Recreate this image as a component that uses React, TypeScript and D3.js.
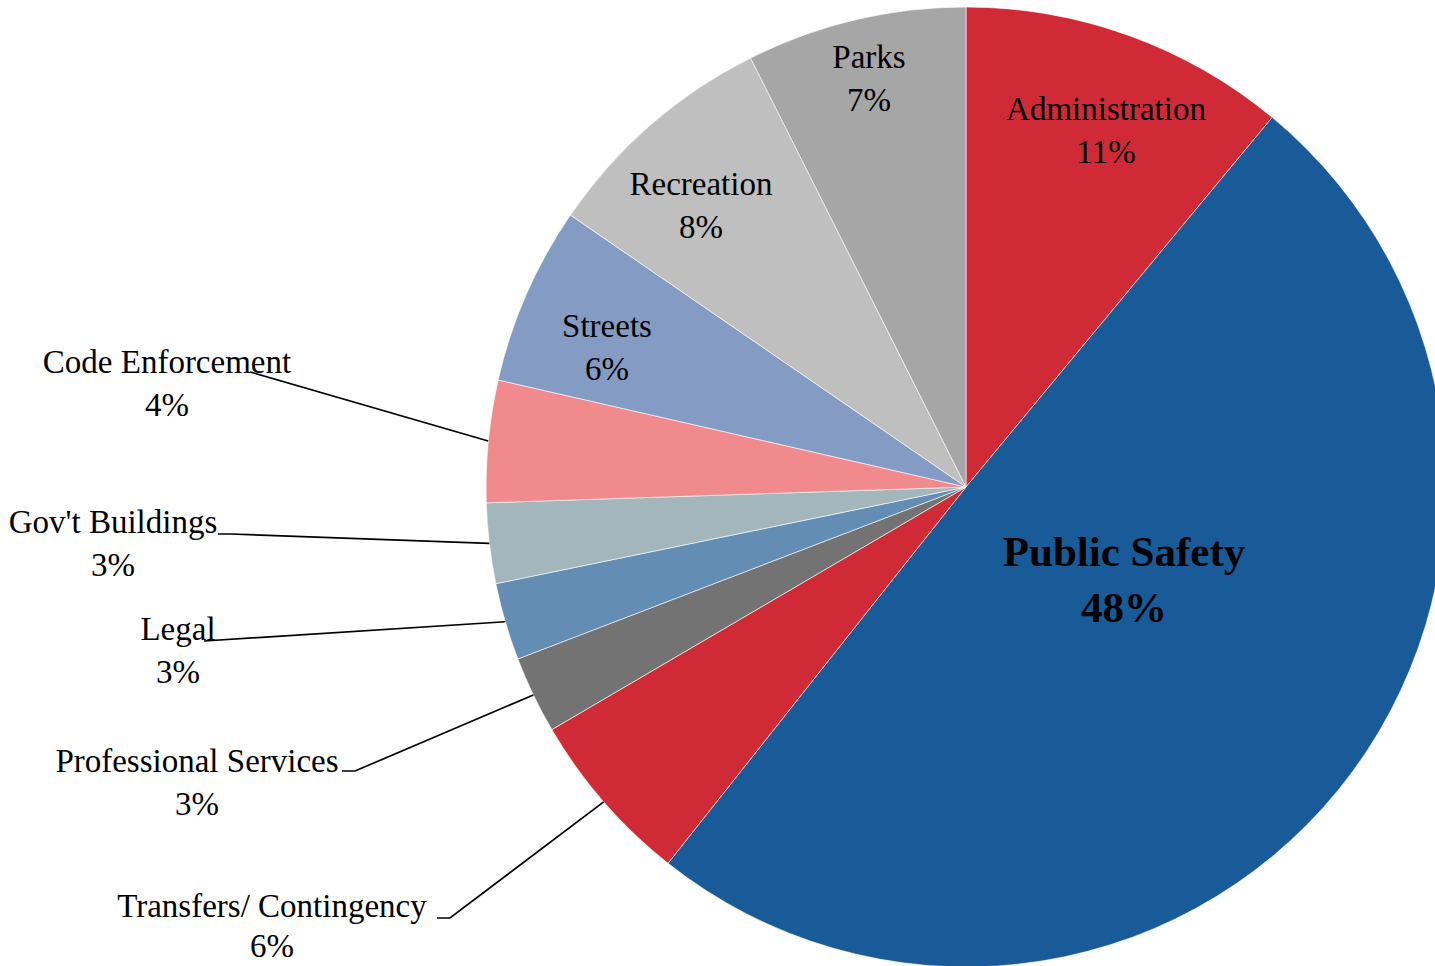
import * as d3 from 'd3';

// Budget shares, clockwise from 12 o'clock
const categories = [
  'Administration',
  'Public Safety',
  'Transfers/ Contingency',
  'Professional Services',
  'Legal',
  "Gov't Buildings",
  'Code Enforcement',
  'Streets',
  'Recreation',
  'Parks',
];
const shares = [11.0, 49.6, 5.9, 2.6, 2.6, 2.7, 4.1, 6.0, 8.0, 7.4];
const pctLabels = ['11%', '48%', '6%', '3%', '3%', '3%', '4%', '6%', '8%', '7%'];
const colors = [
  '#cf2a36',
  '#185b98',
  '#cf2a36',
  '#737373',
  '#638db3',
  '#a3b6bc',
  '#f08a8c',
  '#849cc3',
  '#bfbfbf',
  '#a6a6a6',
];

// label placement (first baseline) and leader line starts
const labelAnchor: Record<string, [number, number]> = {
  Administration: [1106, 120],
  'Public Safety': [1124, 566],
  'Transfers/ Contingency': [272, 917],
  'Professional Services': [197, 772],
  Legal: [178, 640],
  "Gov't Buildings": [113, 533],
  'Code Enforcement': [167, 373],
  Streets: [607, 337],
  Recreation: [701, 195],
  Parks: [869, 68],
};
const leaderStart: Record<string, [number, number][]> = {
  'Transfers/ Contingency': [[437, 918], [450, 918]],
  'Professional Services': [[342, 771], [355, 771]],
  Legal: [[204, 641]],
  "Gov't Buildings": [[218, 534], [230, 534]],
  'Code Enforcement': [[250, 372]],
};

const width = 1435;
const height = 966;
const cx = 966;
const cy = 487;
const radius = 480;

export default function App() {
  const data = categories.map((c, i) => ({ name: c, value: shares[i], pct: pctLabels[i], color: colors[i] }));
  const pie = d3.pie<any>().sort(null).value((d) => d.value);
  const arcs = pie(data);
  const arc = d3.arc<any>().innerRadius(0).outerRadius(radius);
  const edge = d3.arc<any>().innerRadius(radius).outerRadius(radius);
  const line = d3.line();

  return (
    <svg
      width={width}
      height={height}
      style={{ position: 'absolute', left: 0, top: 0, background: '#fff' }}
      fontFamily="'Liberation Serif', 'Times New Roman', serif"
    >
      <g transform={`translate(${cx},${cy})`}>
        {arcs.map((a, i) => (
          <path key={i} d={arc(a) as string} fill={a.data.color} stroke="#fff" strokeWidth={0.6} />
        ))}
      </g>
      {arcs.map((a, i) => {
        const pts = leaderStart[a.data.name];
        if (!pts) return null;
        const [ex, ey] = edge.centroid(a);
        const all: [number, number][] = [...pts, [cx + ex, cy + ey]];
        return <path key={'l' + i} d={line(all) as string} fill="none" stroke="#000" strokeWidth={1.7} />;
      })}
      {arcs.map((a, i) => {
        const [x, y] = labelAnchor[a.data.name];
        const big = a.data.name === 'Public Safety';
        const fs = big ? 43 : 33;
        const gap = big ? 56 : a.data.name === 'Transfers/ Contingency' ? 40 : 43;
        return (
          <text
            key={'t' + i}
            x={x}
            y={y}
            textAnchor="middle"
            fontSize={fs}
            fontWeight={big ? 'bold' : 'normal'}
            fill="#000"
          >
            <tspan x={x} y={y}>{a.data.name}</tspan>
            <tspan x={x} y={y + gap}>{a.data.pct}</tspan>
          </text>
        );
      })}
    </svg>
  );
}
